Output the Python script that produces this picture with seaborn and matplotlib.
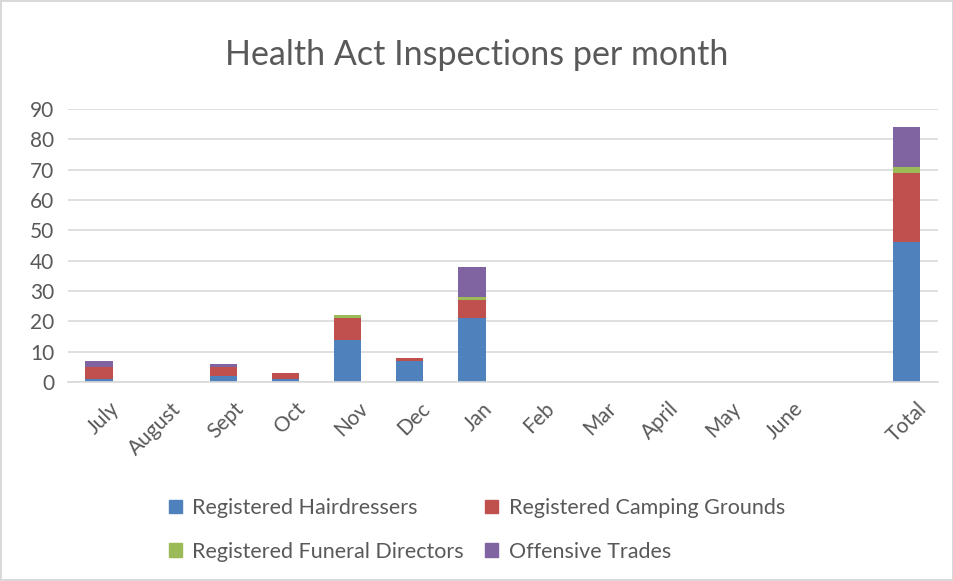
import numpy as np
import pandas as pd
import seaborn as sns
import matplotlib.pyplot as plt
import matplotlib.transforms as mtrans
from matplotlib.patches import Patch

# Data
months = ['July', 'August', 'Sept', 'Oct', 'Nov', 'Dec', 'Jan', 'Feb', 'Mar',
          'April', 'May', 'June', ' ', 'Total']
hairdressers = [1, 0, 2, 1, 14, 7, 21, 0, 0, 0, 0, 0, 0, 46]
camping = [4, 0, 3, 2, 7, 1, 6, 0, 0, 0, 0, 0, 0, 23]
funeral = [0, 0, 0, 0, 1, 0, 1, 0, 0, 0, 0, 0, 0, 2]
offensive = [2, 0, 1, 0, 0, 0, 10, 0, 0, 0, 0, 0, 0, 13]

series = ['Registered Hairdressers', 'Registered Camping Grounds',
          'Registered Funeral Directors', 'Offensive Trades']
colors = ['#4F81BD', '#C0504D', '#9BBB59', '#8064A2']
text_col = '#595959'

df = pd.DataFrame({'month': months, series[0]: hairdressers, series[1]: camping,
                   series[2]: funeral, series[3]: offensive})

sns.set_style('white')
plt.rcParams['font.family'] = ['Lato', 'DejaVu Sans']

fig = plt.figure(figsize=(9.54, 5.81), dpi=100)
fig.patch.set_edgecolor('#D9D9D9')
fig.patch.set_linewidth(1.5)
ax = fig.add_axes([0.0713, 0.3425, 0.9117, 0.47])

# stack by drawing cumulative totals from the top down
cum = df[series].cumsum(axis=1)
for s, c in reversed(list(zip(series, colors))):
    sns.barplot(x=df['month'], y=cum[s], color=c, width=0.44, ax=ax,
                order=months, saturation=1, edgecolor='none')

ax.set_ylim(0, 90)
ax.set_xlim(-0.5, len(months) - 0.5)
ax.set_yticks(range(0, 91, 10))
ax.yaxis.grid(True, color='#D9D9D9', linewidth=1.2)
ax.set_axisbelow(True)
for sp in ['top', 'right', 'left']:
    ax.spines[sp].set_visible(False)
ax.spines['bottom'].set_color('#D9D9D9')
ax.spines['bottom'].set_linewidth(1.2)
ax.set_xlabel('')
ax.set_ylabel('')
ax.tick_params(axis='both', length=0, labelsize=15, colors=text_col, pad=10)
ax.tick_params(axis='x', pad=12)
shift = mtrans.ScaledTranslation(10 / 100, 0, fig.dpi_scale_trans)
for lab in ax.get_xticklabels():
    lab.set_rotation(45)
    lab.set_ha('right')
    lab.set_rotation_mode('anchor')
    lab.set_transform(lab.get_transform() + shift)

fig.text(0.5, 0.905, 'Health Act Inspections per month', fontsize=24.5,
         color=text_col, ha='center', va='center')

handles = [Patch(color=c) for c in colors]
order = [0, 2, 1, 3]
fig.legend([handles[i] for i in order], [series[i] for i in order], ncol=2,
           loc='lower center', bbox_to_anchor=(0.5, 0.0), frameon=False,
           fontsize=15.5, labelcolor=text_col, handlelength=0.6, handleheight=0.6,
           columnspacing=1.0, handletextpad=0.5, labelspacing=1.1)

fig.savefig('out.png', dpi=100)
